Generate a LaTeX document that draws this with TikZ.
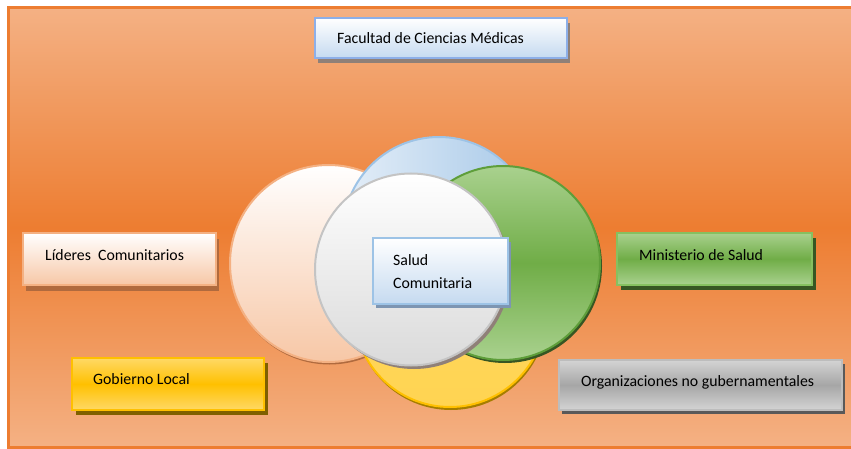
\documentclass[tikz,border=0pt]{standalone}
\usepackage{fontspec}
\setmainfont{Carlito}
\definecolor{bgLight}{HTML}{F4B184}
\definecolor{bgDark}{HTML}{ED7D31}
\definecolor{bgEdge}{HTML}{ED7D31}
\definecolor{blueEdge}{HTML}{9DC3E6}
\definecolor{blueLight}{HTML}{E4EEF8}
\definecolor{blueMid}{HTML}{C5DAF0}
\definecolor{blueDark}{HTML}{A6C8E8}
\definecolor{peachEdge}{HTML}{F4B183}
\definecolor{peachFill}{HTML}{F7C7A6}
\definecolor{peachShadow}{HTML}{B06A3E}
\definecolor{greenLight}{HTML}{A9D18E}
\definecolor{greenMid}{HTML}{70AD47}
\definecolor{greenEdge}{HTML}{5E9E3A}
\definecolor{greenBoxEdge}{HTML}{86C060}
\definecolor{greenShadow}{HTML}{375623}
\definecolor{yellowLight}{HTML}{FFD966}
\definecolor{yellowMid}{HTML}{FFC000}
\definecolor{yellowEdge}{HTML}{FFC000}
\definecolor{yellowShadow}{HTML}{7F6000}
\definecolor{grayLight}{HTML}{D4D4D4}
\definecolor{grayMid}{HTML}{A6A6A6}
\definecolor{grayEdge}{HTML}{BDBDBD}
\definecolor{grayShadow}{HTML}{595959}
\definecolor{whiteEdge}{HTML}{C4C4C4}
\definecolor{whiteBottom}{HTML}{DADADA}
\definecolor{hatchGray}{HTML}{8F8078}
\definecolor{hatchBlue}{HTML}{7D95B2}
\begin{document}
\begin{tikzpicture}[x=1pt,y=-1pt,
  lbl/.style={anchor=west, inner sep=0pt, text=black,
    font=\fontsize{15.8}{23}\selectfont, align=left},
  box/.style={draw, line width=2pt, inner sep=0pt},
  boxshadow/.style={fill, draw=none, inner sep=0pt},
  ring/.style={circle, draw, line width=2pt, inner sep=0pt},
  pastel/.style={top color=white, bottom color=#1},
  banded/.style={top color=#1Light, bottom color=#1Light, middle color=#1Mid}
]
\useasboundingbox (0,0) rectangle (851,449);

% page background with its orange frame
\draw[line width=2.5pt, draw=bgEdge, top color=bgLight, bottom color=bgLight,
      middle color=bgDark] (8.5,7.5) rectangle (875,447.5);

% ---------- overlapping circles ----------
\node[ring, fill=peachShadow, draw=none, minimum size=197pt] (peachS) at (329.5,266) {};
\node[ring, draw=peachEdge, pastel=peachFill, minimum size=197pt] (peach) at (328.5,263.5) {};

\node[ring, fill=yellowShadow!70!yellowMid, draw=none, minimum size=192pt] (yellowS) at (451,314) {};
\node[ring, draw=yellowEdge, top color=yellowLight, bottom color=yellowLight!80!yellowMid,
      minimum size=192pt] (yellow) at (450,311) {};

\node[ring, draw=blueEdge, left color=blueLight, right color=blueDark,
      minimum size=192pt] (blue) at (439,233) {};

\node[ring, fill=greenShadow, draw=none, minimum size=194pt] (greenS) at (505,266) {};
\node[ring, draw=greenEdge, banded=green, minimum size=194pt] (green) at (503,263) {};

\node[ring, fill=hatchGray, draw=none, minimum size=192pt] (coreS) at (414,273) {};
\node[ring, draw=whiteEdge, pastel=whiteBottom, minimum size=192pt] (core) at (411,269.5) {};

% ---------- boxes ----------
% Facultad de Ciencias Médicas
\node[boxshadow, fill=hatchGray, minimum width=252pt, minimum height=40pt] (facS) at (444,43) {};
\node[box, draw=blueEdge!90!blue, pastel=blueMid, minimum width=252pt, minimum height=40pt] (fac) at (441,38) {};
\node[lbl] (facT) at (337,38) {Facultad de Ciencias Médicas};

% Líderes Comunitarios
\node[boxshadow, fill=peachShadow, minimum width=193pt, minimum height=52pt] (lidS) at (122.5,265) {};
\node[box, draw=peachEdge, pastel=peachFill, minimum width=193pt, minimum height=52pt] (lid) at (119.5,259) {};
\node[lbl] (lidT) at (45,255) {Líderes\ \ Comunitarios};

% Ministerio de Salud
\node[boxshadow, fill=greenShadow, minimum width=195pt, minimum height=52pt] (minS) at (718.5,264) {};
\node[box, draw=greenBoxEdge, banded=green, minimum width=195pt, minimum height=52pt] (min) at (714.5,259) {};
\node[lbl] (minT) at (639,255) {Ministerio de Salud};

% Gobierno Local
\node[boxshadow, fill=yellowShadow, minimum width=192pt, minimum height=52pt] (gobS) at (172,389) {};
\node[box, draw=yellowEdge, banded=yellow, minimum width=192pt, minimum height=52pt] (gob) at (168,384) {};
\node[lbl] (gobT) at (93,379) {Gobierno Local};

% Organizaciones no gubernamentales
\node[boxshadow, fill=grayShadow, minimum width=283pt, minimum height=50pt] (ongS) at (703.5,389) {};
\node[box, draw=grayEdge, banded=gray, minimum width=283pt, minimum height=50pt] (ong) at (700.5,385) {};
\node[lbl] (ongT) at (581,382) {Organizaciones no gubernamentales};

% Salud Comunitaria
\node[boxshadow, fill=hatchBlue, minimum width=135pt, minimum height=66pt] (salS) at (443.5,275) {};
\node[box, draw=blueEdge, pastel=blueMid, minimum width=135pt, minimum height=66pt] (sal) at (440.5,271) {};
\node[lbl] (salT) at (393,271.5) {Salud\\Comunitaria};
\end{tikzpicture}
\end{document}
